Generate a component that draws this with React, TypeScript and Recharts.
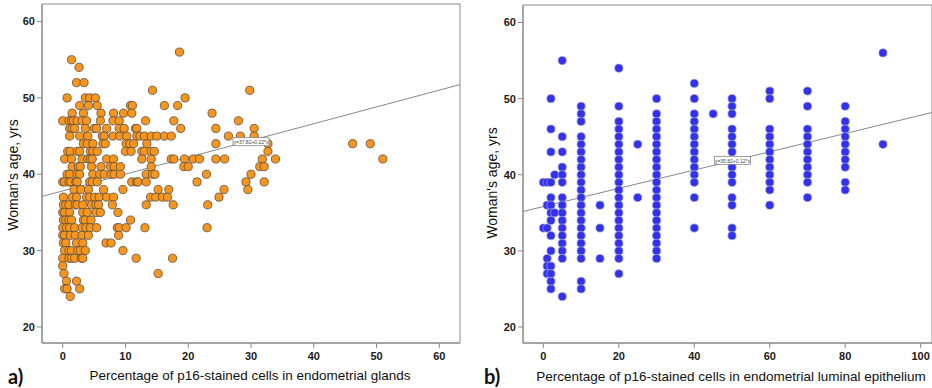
import React from 'react';
import {
  ScatterChart,
  Scatter,
  XAxis,
  YAxis,
  ReferenceLine,
  ReferenceArea,
  ReferenceDot,
} from 'recharts';

// ---------- Panel a) : glands ----------
const glandAgeLevels = [56, 55, 54, 52, 51, 50, 49, 48, 47, 46, 45, 44, 43, 42, 41, 40, 39, 38, 37, 36, 35, 34, 33, 32, 31, 30, 29, 28, 27, 26, 25, 24];
const glandPctByAge = [
  [18.6],
  [1.4],
  [2.6],
  [2.2, 3.4],
  [14.3, 29.8],
  [0.7, 3.6, 4.3, 5.2, 19.5],
  [2.7, 4.1, 5.5, 10.8, 11.1, 16.2, 18.3],
  [1.5, 3.3, 6.1, 8.1, 9.7, 11, 23.8],
  [0, 1, 1.4, 1.7, 2.3, 3.1, 3.8, 6, 8, 9, 13.2, 17.7, 28],
  [1.1, 1.5, 1.9, 3.6, 5, 5.4, 7, 9, 9.8, 11.6, 11.8, 18.8, 24.4, 30.5],
  [1.1, 2.7, 4, 6.3, 6.6, 8, 9.1, 10.2, 11.8, 12.3, 13, 14.1, 15, 16.2, 17.3, 26.4, 28.3, 30.5],
  [3.3, 3.9, 4.8, 6.4, 6.8, 10.1, 10.7, 11.3, 13.4, 24.4, 32.7, 46.2, 49],
  [0.8, 1.2, 2.3, 2.7, 4.4, 4.8, 5.5, 10, 10.9, 12.6, 13, 14.1, 14.6, 32.7],
  [0.3, 1.4, 3.1, 4, 4.4, 4.7, 7, 8.1, 12.6, 14.1, 17.3, 17.7, 19.4, 20.8, 21.8, 24.4, 25.8, 31.8, 33.9, 51],
  [1.5, 2.5, 2.8, 4.6, 6.1, 7.6, 8.2, 9.2, 14.1, 19.3, 20, 31.4, 32.1],
  [0.7, 1.1, 2.3, 2.7, 4.8, 5.9, 6.6, 7.7, 8.2, 9.2, 13.3, 14.3, 14.7, 22.9, 30],
  [0, 0.3, 1, 1.3, 2.1, 2.3, 4.3, 4.7, 5.5, 11, 11.8, 12, 13.3, 21.4, 29.2, 32.1],
  [1.8, 2.9, 4.1, 6.5, 9.6, 15.2, 16.9, 25.7, 29.5],
  [0.1, 1.5, 2.2, 3.8, 4.3, 5.1, 5.8, 7, 8.1, 14, 14.8, 15.9, 16.7, 24.9],
  [0.1, 0.5, 1, 2, 2.3, 3.2, 4.6, 5.3, 5.7, 7.9, 13.3, 17.6, 23.1],
  [0, 0.3, 1.1, 3.2, 3.9, 5.3, 6, 8.8],
  [0.1, 0.5, 1, 1.4, 3.3, 3.6, 4.5, 10.8],
  [0, 0.6, 1.1, 1.9, 3.1, 3.7, 4.4, 5.4, 8.7, 9, 10.1, 13.1, 23],
  [0, 0.3, 1.2, 2, 3.1, 4.1, 8.9],
  [0.1, 0.5, 2.2, 3.2, 6.9, 7.7],
  [0.3, 1, 1.4, 2.4, 2.8, 3.6, 9.6],
  [0, 1, 1.4, 1.9, 3, 3.2, 11.7, 17.5],
  [0],
  [0.2, 15.2],
  [0.6, 2.2],
  [0.3, 0.7, 2.7],
  [1.2],
];
const glandXTicks = [0, 10, 20, 30, 40, 50, 60];
const glandXDomain = [-3.3, 63.3];
const glandIntercept = 37.82;
const glandSlope = 0.22;
const glandEqLabel = 'y=37.82+0.22*x';
const glandEqPos = { x: 30.0, y: 44.26 };

// ---------- Panel b) : luminal epithelium ----------
const luminalPctLevels = [0, 1, 2, 3, 5, 10, 15, 20, 25, 30, 40, 45, 50, 60, 70, 80, 90];
const luminalAgesByPct = [
  [39, 33],
  [39, 36, 33, 29, 28, 27],
  [50, 46, 43, 39, 37, 36, 35, 34, 32, 30, 28, 27, 26, 25],
  [40, 35],
  [55, 45, 43, 41, 40, 39, 37, 36, 35, 34, 33, 32, 31, 30, 29, 24],
  [49, 48, 47, 45, 44, 43, 42, 41, 40, 39, 38, 37, 36, 35, 34, 33, 32, 31, 30, 29, 26, 25],
  [36, 33, 29],
  [54, 49, 47, 46, 45, 44, 43, 42, 41, 40, 39, 38, 37, 36, 35, 34, 33, 32, 31, 30, 29, 27],
  [44, 37],
  [50, 48, 47, 46, 45, 44, 43, 42, 41, 40, 39, 38, 37, 36, 35, 34, 33, 32, 31, 30, 29],
  [52, 50, 48, 47, 46, 45, 44, 43, 42, 41, 40, 39, 37, 33],
  [48],
  [50, 49, 48, 46, 45, 44, 43, 41, 40, 39, 37, 36, 33, 32],
  [51, 50, 46, 45, 44, 43, 42, 41, 40, 39, 38, 36],
  [51, 49, 46, 45, 44, 43, 42, 41, 40, 39, 37],
  [49, 47, 46, 45, 44, 43, 42, 41, 39, 38],
  [56, 44],
];
const luminalXTicks = [0, 20, 40, 60, 80, 100];
const luminalXDomain = [-5.4, 103];
const luminalIntercept = 35.82;
const luminalSlope = 0.12;
const luminalEqLabel = 'y=35.82+0.12*x';
const luminalEqPos = { x: 50.1, y: 41.9 };

// ---------- shared ----------
const ageTicks = [20, 30, 40, 50, 60];
const ageDomain = [17.9, 62.3];

const glandData = glandAgeLevels.flatMap((age, i) => glandPctByAge[i].map((p) => ({ x: p, y: age })));
const luminalData = luminalPctLevels.flatMap((p, i) => luminalAgesByPct[i].map((age) => ({ x: p, y: age })));

const FONT = 'Arial, "Liberation Sans", sans-serif';
const tickStyle = { fontSize: 11, fontWeight: 700, fill: '#1a1a1a', fontFamily: FONT };

const makeDot = (fill: string, stroke: string, sw: number) => (props: any) => {
  const { cx, cy } = props;
  if (cx == null || cy == null) return <g />;
  return <circle cx={cx} cy={cy} r={4.1} fill={fill} stroke={stroke} strokeWidth={sw} />;
};

const makeEq = (text: string) => (props: any) => {
  const { cx, cy } = props;
  if (cx == null || cy == null) return <g />;
  return (
    <g>
      <rect x={cx - 18} y={cy - 4} width={36} height={8} fill="#fff" stroke="#777" strokeWidth={0.7} />
      <text x={cx} y={cy + 0.3} fontSize={5} textAnchor="middle" dominantBaseline="central" fill="#444" fontFamily={FONT}>
        {text}
      </text>
    </g>
  );
};

type PanelProps = {
  data: { x: number; y: number }[];
  xDomain: number[];
  xTicks: number[];
  yAxisWidth: number;
  rightMargin: number;
  top: number;
  intercept: number;
  slope: number;
  eqText: string;
  eqPos: { x: number; y: number };
  fill: string;
  stroke: string;
  strokeWidth: number;
};

const Panel = (p: PanelProps) => {
  const x0 = p.xDomain[0];
  const x1 = p.xDomain[1];
  return (
    <ScatterChart width={466} height={388} margin={{ top: p.top, right: p.rightMargin, bottom: 15, left: 0 }}>
      <XAxis
        type="number"
        dataKey="x"
        domain={p.xDomain}
        ticks={p.xTicks}
        allowDataOverflow
        height={30}
        tickSize={5}
        tickMargin={4}
        tick={tickStyle}
        axisLine={{ stroke: '#888' }}
        tickLine={{ stroke: '#888' }}
      />
      <YAxis
        type="number"
        dataKey="y"
        domain={ageDomain}
        ticks={ageTicks}
        allowDataOverflow
        width={p.yAxisWidth}
        tickSize={5}
        tickMargin={2}
        tick={tickStyle}
        axisLine={{ stroke: '#888' }}
        tickLine={{ stroke: '#888' }}
      />
      <ReferenceArea x1={x0} x2={x1} y1={ageDomain[0]} y2={ageDomain[1]} fill="none" stroke="#888" strokeWidth={1} ifOverflow="visible" />
      <ReferenceLine
        segment={[
          { x: x0, y: p.intercept + p.slope * x0 },
          { x: x1, y: p.intercept + p.slope * x1 },
        ]}
        stroke="#888"
        strokeWidth={1}
        ifOverflow="visible"
      />
      <Scatter data={p.data} isAnimationActive={false} shape={makeDot(p.fill, p.stroke, p.strokeWidth)} />
      <ReferenceDot x={p.eqPos.x} y={p.eqPos.y} r={0} shape={makeEq(p.eqText)} ifOverflow="visible" />
    </ScatterChart>
  );
};

const titleStyle: React.CSSProperties = {
  position: 'absolute',
  fontFamily: FONT,
  fontSize: 13.5,
  color: '#111',
  whiteSpace: 'nowrap',
  transform: 'translate(-50%, -50%)',
};
const yTitleStyle: React.CSSProperties = {
  ...titleStyle,
  fontSize: 14,
  transform: 'translate(-50%, -50%) rotate(-90deg)',
};
const tagStyle: React.CSSProperties = {
  position: 'absolute',
  fontFamily: 'Lato, "Open Sans", sans-serif',
  fontWeight: 700,
  fontSize: 20,
  color: '#111',
  transform: 'translate(0, -50%)',
};

export default function App() {
  return (
    <div style={{ position: 'absolute', left: 0, top: 0, width: 932, height: 388, background: '#fff', overflow: 'hidden' }}>
      <div style={{ position: 'absolute', left: 0, top: 0 }}>
        <Panel
          data={glandData}
          xDomain={glandXDomain}
          xTicks={glandXTicks}
          yAxisWidth={42}
          rightMargin={6}
          top={4}
          intercept={glandIntercept}
          slope={glandSlope}
          eqText={glandEqLabel}
          eqPos={glandEqPos}
          fill="#F7961E"
          stroke="#5a4a3a"
          strokeWidth={0.8}
        />
      </div>
      <div style={{ position: 'absolute', left: 466, top: 0 }}>
        <Panel
          data={luminalData}
          xDomain={luminalXDomain}
          xTicks={luminalXTicks}
          yAxisWidth={57}
          rightMargin={0}
          top={5}
          intercept={luminalIntercept}
          slope={luminalSlope}
          eqText={luminalEqLabel}
          eqPos={luminalEqPos}
          fill="#3232EE"
          stroke="#a0a0d8"
          strokeWidth={0.7}
        />
      </div>
      <div style={{ ...yTitleStyle, left: 13, top: 175 }}>Woman's age, yrs</div>
      <div style={{ ...yTitleStyle, left: 492, top: 183 }}>Woman's age, yrs</div>
      <div style={{ ...titleStyle, left: 250, top: 375 }}>Percentage of p16-stained cells in endometrial glands</div>
      <div style={{ ...titleStyle, left: 731, top: 376 }}>Percentage of p16-stained cells in endometrial luminal epithelium</div>
      <div style={{ ...tagStyle, left: 8, top: 376 }}>a)</div>
      <div style={{ ...tagStyle, left: 484, top: 376 }}>b)</div>
    </div>
  );
}
